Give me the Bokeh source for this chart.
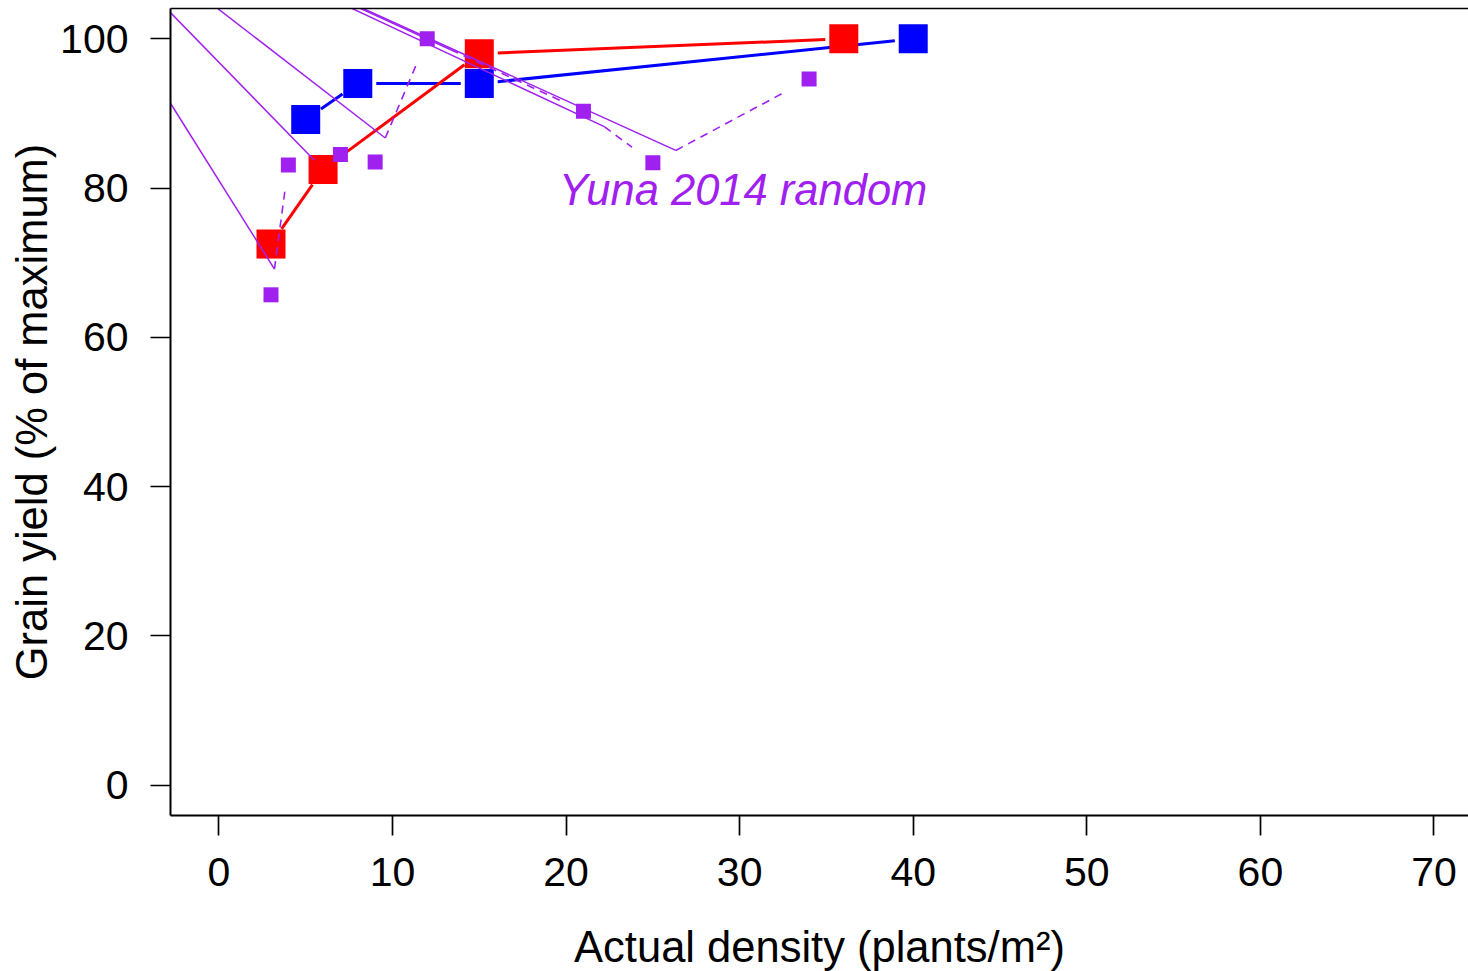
import math
from bokeh.plotting import figure
from bokeh.models import Range1d, FixedTicker, LinearAxis
from bokeh.core.properties import value
from bokeh.embed import file_html
from bokeh.resources import INLINE

# ---- data ----
red_x = [3, 6, 15, 36]
red_y = [72.5, 82.5, 98.0, 100.0]
blue_x = [5, 8, 15, 40]
blue_y = [89.2, 94.0, 94.0, 100.0]
purple_x = [3, 4, 7, 9, 12, 21, 25, 34]
purple_y = [65.7, 83.1, 84.5, 83.5, 100.0, 90.3, 83.4, 94.6]
label_text = ["Yuna 2014 random"]
label_x = [30.2]
label_y = [79.7]
x_ticks = [0, 10, 20, 30, 40, 50, 60, 70]
y_ticks = [0, 20, 40, 60, 80, 100]
x_title = "Actual density (plants/m²)"
y_title = "Grain yield (% of maximum)"
artifact_origin = (-12.0, 125.5)

X0, X1 = -2.79, 71.99
Y0, Y1 = -4.06, 104.06
FW, FH = 1298, 807
FONT = "Liberation Sans"
PURPLE = "#A020F0"

sx = FW / (X1 - X0)
sy = FH / (Y1 - Y0)


def gapped(xs, ys, gap):
    """R type='b' style segments: leave a gap (in px) around every point."""
    x0s, y0s, x1s, y1s = [], [], [], []
    for i in range(len(xs) - 1):
        dxp = (xs[i + 1] - xs[i]) * sx
        dyp = (ys[i + 1] - ys[i]) * sy
        d = math.hypot(dxp, dyp)
        if d <= 2 * gap:
            continue
        ux, uy = dxp / d, dyp / d
        x0s.append(xs[i] + ux * gap / sx)
        y0s.append(ys[i] + uy * gap / sy)
        x1s.append(xs[i + 1] - ux * gap / sx)
        y1s.append(ys[i + 1] - uy * gap / sy)
    return x0s, y0s, x1s, y1s


p = figure(frame_width=FW, frame_height=FH,
           x_range=Range1d(X0, X1), y_range=Range1d(Y0, Y1),
           output_backend="svg", toolbar_location=None,
           min_border_left=170, min_border_right=0,
           min_border_top=8, min_border_bottom=156,
           x_axis_label=x_title, y_axis_label=y_title)
p.outline_line_color = None
p.xgrid.visible = False
p.ygrid.visible = False
p.background_fill_color = "white"
p.border_fill_color = "white"

for ax, ticks in ((p.xaxis[0], x_ticks), (p.yaxis[0], y_ticks)):
    ax.ticker = FixedTicker(ticks=ticks)
    ax.major_tick_out = 20
    ax.major_tick_in = 0
    ax.minor_tick_out = 0
    ax.minor_tick_in = 0
    ax.major_tick_line_width = 1.7
    ax.axis_line_width = 2
    ax.axis_line_color = "black"
    ax.major_tick_line_color = "black"
    ax.major_label_text_font = FONT
    ax.major_label_text_font_size = "41px"
    ax.major_label_text_color = "black"
    ax.axis_label_text_font = FONT
    ax.axis_label_text_font_size = "43.5px"
    ax.axis_label_text_font_style = "normal"
    ax.axis_label_text_color = "black"

p.xaxis[0].major_label_standoff = 22
p.xaxis[0].axis_label_standoff = 34
p.yaxis[0].major_label_standoff = 22
p.yaxis[0].axis_label_standoff = 1
p.yaxis[0].major_label_orientation = "horizontal"

top = LinearAxis(ticker=FixedTicker(ticks=[]), major_tick_out=0, major_tick_in=0,
                 minor_tick_out=0, minor_tick_in=0, major_label_text_font_size="0px",
                 axis_line_width=1.5, axis_line_color="black", major_label_standoff=0)
p.add_layout(top, "above")

# blue series
bx0, by0, bx1, by1 = gapped(blue_x, blue_y, 18.5)
p.segment(bx0, by0, bx1, by1, line_color="#0000FF", line_width=3)
p.scatter(blue_x, blue_y, marker="square", size=29, fill_color="#0000FF", line_color=None)

# red series
rx0, ry0, rx1, ry1 = gapped(red_x, red_y, 18.5)
p.segment(rx0, ry0, rx1, ry1, line_color="#FF0000", line_width=3)
p.scatter(red_x, red_y, marker="square", size=29, fill_color="#FF0000", line_color=None)

# purple series (dashed, gapped)
px0, py0, px1, py1 = gapped(purple_x, purple_y, 26)
p.segment(px0, py0, px1, py1, line_color=PURPLE, line_width=1.6, line_dash="8 6")
# stray solid strokes from a common origin to each dashed segment start
p.segment([artifact_origin[0]] * len(px0), [artifact_origin[1]] * len(py0), px0, py0,
          line_color=PURPLE, line_width=1.5)
p.scatter(purple_x, purple_y, marker="square", size=15, fill_color=PURPLE, line_color=None)

p.text(x=label_x, y=label_y, text=label_text, text_align="center", text_baseline="middle",
       text_font=value(FONT), text_font_style="italic", text_font_size="43.5px",
       text_color=PURPLE)

open("out.html", "w").write(file_html(p, INLINE))
